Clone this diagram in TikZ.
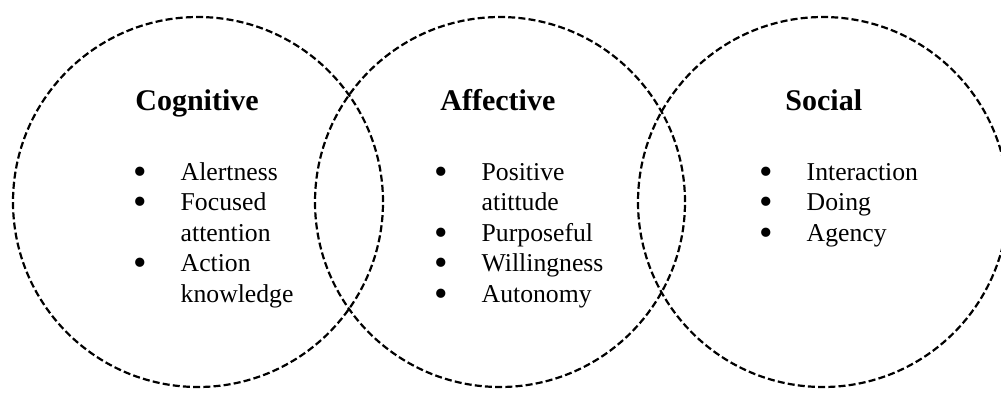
\documentclass[tikz,border=0pt]{standalone}
\usepackage{fontspec}
\setmainfont{Liberation Serif}
\usepackage{tikz}
\usetikzlibrary{calc,shapes.geometric}
\def\ringrad{185}
\newcommand{\itm}{\strut\makebox[22.4pt][l]{\hspace*{-1pt}\raisebox{-0.16em}{\scalebox{1.5}{\textbullet}}}}
\newcommand{\cnt}{\strut\hspace*{22.4pt}}

\begin{document}
\begin{tikzpicture}[x=0.5pt,y=-0.5pt]
    \tikzstyle{ring}=[circle,draw=black,dash pattern=on 3.5pt off 1.6pt,line width=1.1pt,minimum size=185pt,inner sep=0pt]
    \tikzstyle{head}=[anchor=base west,inner sep=0pt,font=\fontsize{15}{18}\selectfont\bfseries]
    \tikzstyle{items}=[anchor=north west,inner sep=0pt,align=left,font=\fontsize{12.85}{15.25}\selectfont]

    \useasboundingbox (0,0) rectangle (1001,392);

    % Draw the three circles
    \begin{scope}
    \clip (0,0) rectangle (1001,392);
    \node[ring] (C-1) at (198,202) {};
    \node[ring] (C-2) at (500,202) {};
    \node[ring] (C-3) at (823,202) {};
    \end{scope}

    % Headings
    \node[head] (cog) at (135,110) {Cognitive};
    \node[head] (aff) at (440,110) {Affective};
    \node[head] (soc) at (785,110) {Social};

    % Lists under the headings
    \node[items] (cog-l) at (135.5,158.6) {\itm Alertness\\ \itm Focused\\ \cnt attention\\ \itm Action\\ \cnt knowledge};
    \node[items] (aff-l) at (436.5,158.6) {\itm Positive\\ \cnt atittude\\ \itm Purposeful\\ \itm Willingness\\ \itm Autonomy};
    \node[items] (soc-l) at (761.5,158.6) {\itm Interaction\\ \itm Doing\\ \itm Agency};
\end{tikzpicture}
\end{document}
